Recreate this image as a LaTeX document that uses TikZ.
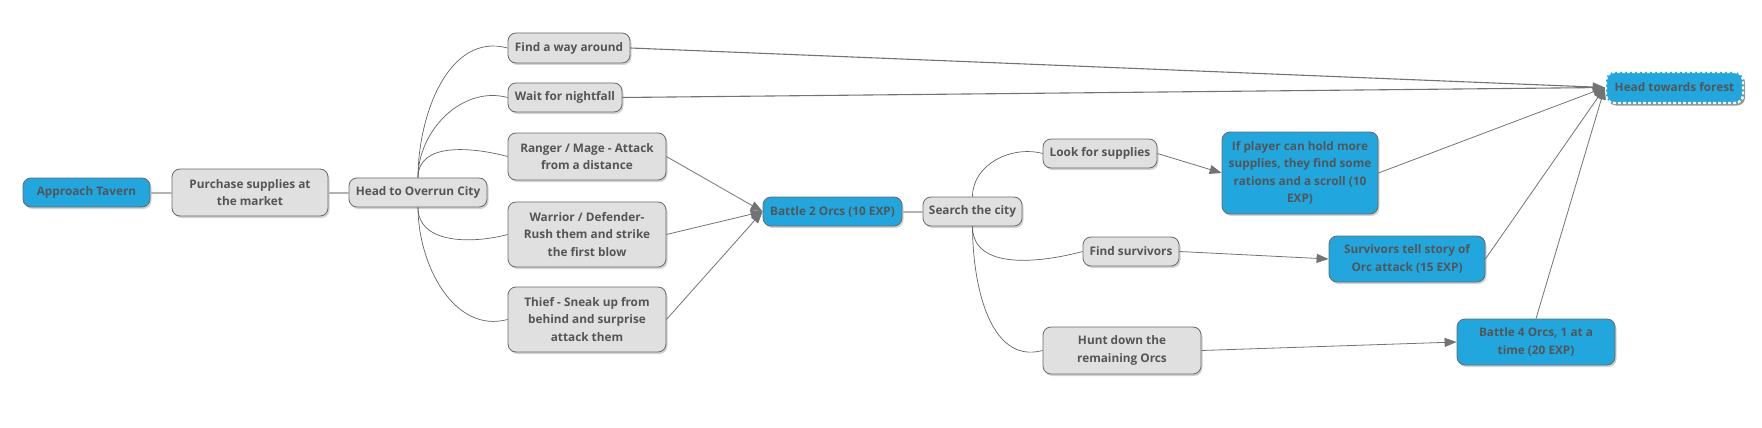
\documentclass[tikz,border=0pt]{standalone}
\usepackage{fontspec}
\setmainfont{Open Sans}
\usetikzlibrary{arrows.meta, shadows}
\usepackage{xcolor}
\definecolor{boxgray}{RGB}{224,224,224}
\definecolor{boxblue}{RGB}{33,167,222}
\definecolor{edgegray}{RGB}{105,105,105}
\definecolor{textgray}{RGB}{85,85,85}
\definecolor{linkgray}{RGB}{178,178,178}
\definecolor{curvegray}{RGB}{100,100,100}
\definecolor{arrowgray}{RGB}{115,115,115}

\begin{document}
\begin{tikzpicture}[
    x=1pt, y=-1pt,
    >={Triangle[length=12pt,width=9pt]},
    basebox/.style={rounded corners=8pt, draw=edgegray, line width=0.8pt, text=textgray,
        font=\fontsize{11.8}{17.5}\selectfont\bfseries, align=center, inner sep=2pt,
        drop shadow={shadow xshift=1.5pt, shadow yshift=-2pt, opacity=0.35}},
    graybox/.style={basebox, fill=boxgray},
    bluebox/.style={basebox, fill=boxblue},
    goalbox/.style={basebox, fill=boxblue, draw=white, line width=2.4pt, dash pattern=on 3pt off 2pt,
        drop shadow={shadow xshift=2pt, shadow yshift=-2.5pt, opacity=0.8}},
    link/.style={draw=linkgray, line width=2pt},
    branch/.style={draw=curvegray, line width=0.7pt},
    leadto/.style={->, draw=arrowgray, line width=0.8pt},
]
\useasboundingbox (0,0) rectangle (1762,428);

% === Start of the quest ===
\node[bluebox, minimum width=127, minimum height=29] (approach) at (86.5,192.5) {Approach Tavern};
\node[graybox, minimum width=156, minimum height=47] (purchase) at (250,192.5) {Purchase supplies at\\the market};
\node[graybox, minimum width=138, minimum height=29] (head) at (418,192.5) {Head to Overrun City};

% === Choices at the city ===
\node[graybox, minimum width=122, minimum height=30] (findway) at (569,48) {Find a way around};
\node[graybox, minimum width=114, minimum height=29] (nightfall) at (565,97.5) {Wait for nightfall};
\node[graybox, minimum width=158, minimum height=47] (ranger) at (587,156.5) {Ranger / Mage - Attack\\from a distance};
\node[graybox, minimum width=158, minimum height=65] (warrior) at (587,234.5) {Warrior / Defender-\\Rush them and strike\\the first blow};
\node[graybox, minimum width=158, minimum height=65] (thief) at (587,319.5) {Thief - Sneak up from\\behind and surprise\\attack them};

% === Fight and search ===
\node[bluebox, minimum width=139, minimum height=29] (battle2) at (832.5,211.5) {Battle 2 Orcs (10 EXP)};
\node[graybox, minimum width=99, minimum height=29] (search) at (972.5,211.5) {Search the city};
\node[graybox, minimum width=114, minimum height=29] (supplies) at (1100,153.5) {Look for supplies};
\node[graybox, minimum width=96, minimum height=29] (survivors) at (1131,251.5) {Find survivors};
\node[graybox, minimum width=158, minimum height=47] (hunt) at (1122,350.5) {Hunt down the\\remaining Orcs};

% === Rewards ===
\node[bluebox, minimum width=156, minimum height=82] (ifplayer) at (1300,173) {If player can hold more\\supplies, they find some\\rations and a scroll (10\\EXP)};
\node[bluebox, minimum width=156, minimum height=46] (tellstory) at (1407,259) {Survivors tell story of\\Orc attack (15 EXP)};
\node[bluebox, minimum width=158, minimum height=46] (battle4) at (1536,342) {Battle 4 Orcs, 1 at a\\time (20 EXP)};
\node[goalbox, minimum width=137, minimum height=31] (forest) at (1674.5,87.5) {Head towards forest};

% === Plain links ===
\draw[link] (approach) -- (purchase);
\draw[link] (purchase) -- (head);
\draw[link] (battle2) -- (search);

% === Branches ===
\draw[branch] (head.north) to[out=90, in=165] (findway.west);
\draw[branch] (head.north) to[out=90, in=165] (nightfall.west);
\draw[branch] (head.north) to[out=90, in=165] (ranger.west);
\draw[branch] (head.south) to[out=-90, in=195] (warrior.west);
\draw[branch] (head.south) to[out=-90, in=195] (thief.west);
\draw[branch] (search.north) to[out=90, in=165] (supplies.west);
\draw[branch] (search.south) to[out=-90, in=195] (survivors.west);
\draw[branch] (search.south) to[out=-90, in=195] (hunt.west);

% === Arrows ===
\draw[leadto] (ranger.east) -- (battle2.west);
\draw[leadto] (warrior.east) -- (battle2.west);
\draw[leadto] (thief.east) -- (battle2.west);
\draw[leadto] (supplies.east) -- (ifplayer.west);
\draw[leadto] (survivors.east) -- (tellstory.west);
\draw[leadto] (hunt.east) -- (battle4.west);

% === Everything ends at the forest ===
\draw[leadto, line width=1.1pt] (findway.east) -- (forest.west);
\draw[leadto, line width=1.1pt] (nightfall.east) -- (forest.west);
\draw[leadto] (ifplayer.east) -- (forest.west);
\draw[leadto] (tellstory.east) -- (forest.west);
\draw[leadto] (battle4.north) -- (forest.west);

\end{tikzpicture}
\end{document}
